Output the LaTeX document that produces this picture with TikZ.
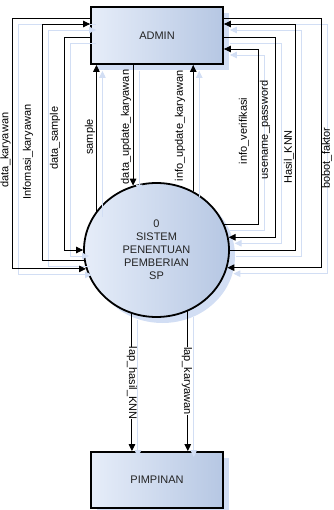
\documentclass[tikz,border=0pt]{standalone}
\usepackage{fontspec}
\setmainfont{Liberation Sans}
\usetikzlibrary{arrows.meta,shapes.geometric,shadows}
\definecolor{gLight}{RGB}{230,237,249}
\definecolor{gDark}{RGB}{182,199,227}
\definecolor{shadowc}{RGB}{210,222,244}
\definecolor{txt}{RGB}{35,35,35}
\tikzset{
  shapefill/.style={left color=gLight, right color=gDark},
  shad/.style={drop shadow={shadow xshift=6pt, shadow yshift=-6pt, fill=shadowc, opacity=1}},
  ent/.style={rectangle, draw=black, line width=1.8pt, minimum width=132pt, minimum height=57pt,
    inner sep=0pt, shad, shapefill, font=\fontsize{11}{13}\selectfont, text=txt},
  proc/.style={ellipse, draw=black, line width=1.8pt, minimum width=145pt, minimum height=134pt,
    inner sep=0pt, shad, shapefill, align=center, font=\fontsize{11}{13}\selectfont, text=txt},
  flow/.style={draw=black, line width=0.9pt, -{Triangle[length=7pt,width=6.5pt]}},
  lbl/.style={font=\fontsize{11}{13}\selectfont, inner sep=0pt, rotate=90},
  lblb/.style={font=\fontsize{11}{13}\selectfont, inner sep=0pt, rotate=-90, fill=white},
}
\newcommand\drawflows{%
  \draw[flow] (admin.west |- c1) -- (c1) |- (sys.195);
  \draw[flow] (sys.188) -| (c2) -- (admin.west |- c2);
  \draw[flow] (admin.west |- c3) -- (c3) |- (sys.west);
  \draw[flow] (sys.147) -- (admin.south -| sys.147);
  \draw[flow] (admin.south -| sys.110) -- (sys.110);
  \draw[flow] (sys.58) -- (admin.south -| sys.58);
  \draw[flow] (sys.21) -| (c7) -- (admin.east |- c7);
  \draw[flow] (admin.east |- c8) -- (c8) |- (sys.10);
  \draw[flow] (sys.east) -| (c9) -- (admin.east |- c9);
  \draw[flow] (admin.east |- c10) -- (c10) |- (sys.346);
  \draw[flow] (sys.249) -- (pimp.north -| sys.249);
  \draw[flow] (sys.297) -- (pimp.north -| sys.297);
}
\begin{document}
\begin{tikzpicture}[x=1pt,y=1pt]
\useasboundingbox (0,0) rectangle (333,-510);
\node[ent] (admin) at (157,-35.5) {ADMIN};
\node[proc] (sys) at (156.5,-250) {0\\SISTEM\\PENENTUAN\\PEMBERIAN\\SP};
\node[ent, minimum height=56pt] (pimp) at (157,-480) {PIMPINAN};
\coordinate (c1) at (12,-18);
\coordinate (c2) at (42,-24);
\coordinate (c3) at (64,-37);
\coordinate (c7) at (258,-49);
\coordinate (c8) at (275,-37);
\coordinate (c9) at (295,-24);
\coordinate (c10) at (321,-18);
\begin{scope}[transform canvas={shift={(6pt,-6pt)}},
  flow/.style={draw=shadowc, line width=0.9pt, -{Triangle[length=7pt,width=6.5pt]}}]
  \drawflows
\end{scope}
\drawflows
\node[lbl] (l1) at (5.5,-150) {data\_karyawan};
\node[lbl] (l2) at (28,-152) {Infomasi\_karyawan};
\node[lbl] (l3) at (55,-138) {data\_sample};
\node[lbl] (l4) at (90,-137) {sample};
\node[lbl] (l5) at (126,-127) {data\_update\_karyawan};
\node[lbl] (l6) at (180,-126) {info\_update\_karyawan};
\node[lbl] (l7) at (244,-131) {info\_verifikasi};
\node[lbl] (l8) at (265,-130) {usename\_password};
\node[lbl] (l9) at (289,-157) {Hasil\_KNN};
\node[lbl] (l10) at (327,-158) {bobot\_faktor};
\node[lblb] (l11) at (132,-383) {lap\_hasil\_KNN};
\node[lblb] (l12) at (187,-381) {lap\_karyawan};
\end{tikzpicture}
\end{document}
